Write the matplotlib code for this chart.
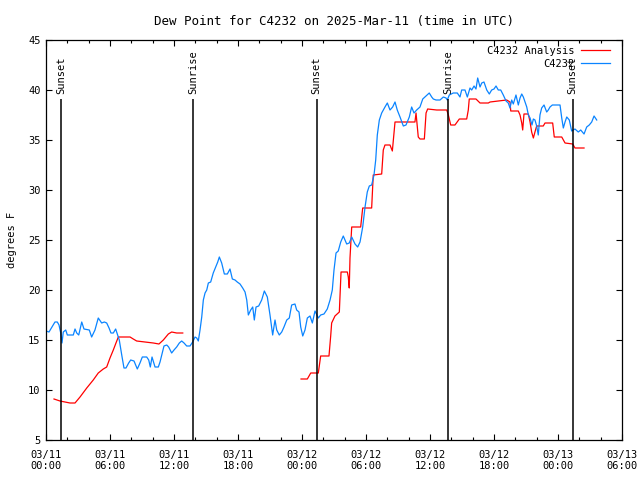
import matplotlib
matplotlib.use('Agg')
import matplotlib.pyplot as plt
import matplotlib.dates as mdates
import numpy as np
import pandas as pd

plt.rcParams['font.family'] = 'DejaVu Sans Mono'
plt.rcParams['font.size'] = 7.5

# hours after 2025-03-11 00:00 UTC
obs_hours = [0.00, 0.28, 0.84, 1.06, 1.22, 1.38, 1.50, 1.62, 1.85, 2.00, 2.56, 2.72,
             2.88, 3.07, 3.35, 3.56, 4.06, 4.28, 4.59, 4.90, 5.22, 5.47, 5.69, 5.91,
             6.09, 6.31, 6.53, 6.72, 6.87, 7.10, 7.31, 7.50, 7.75, 7.94, 8.25, 8.56,
             8.81, 9.03, 9.44, 9.63, 9.78, 9.94, 10.22, 10.53, 10.69, 11.06, 11.32,
             11.50, 11.78, 12.00, 12.25, 12.50, 12.72, 12.94, 13.19, 13.50, 13.75,
             13.97, 14.13, 14.28, 14.44, 14.60, 14.75, 14.91, 15.07, 15.22, 15.44,
             15.68, 15.91, 16.10, 16.25, 16.47, 16.72, 17.00, 17.25, 17.47, 17.72,
             17.93, 18.19, 18.44, 18.66, 18.82, 18.97, 19.19, 19.38, 19.53, 19.69,
             19.94, 20.22, 20.47, 20.75, 21.00, 21.25, 21.47, 21.63, 21.87, 22.10,
             22.31, 22.57, 22.81, 23.03, 23.34, 23.50, 23.72, 23.88, 24.07, 24.28,
             24.50, 24.75, 24.97, 25.22, 25.53, 25.75, 26.06, 26.37, 26.63, 26.84,
             27.00, 27.19, 27.40, 27.63, 27.87, 28.19, 28.43, 28.66, 28.97, 29.22,
             29.44, 29.69, 29.91, 30.12, 30.31, 30.53, 30.75, 30.91, 31.06, 31.25,
             31.47, 31.78, 32.00, 32.25, 32.50, 32.72, 32.93, 33.19, 33.50, 33.75,
             34.06, 34.28, 34.50, 34.75, 35.06, 35.32, 35.63, 35.93, 36.16, 36.31,
             36.56, 36.94, 37.25, 37.50, 37.62, 37.81, 38.18, 38.56, 38.81, 38.97,
             39.28, 39.50, 39.75, 39.91, 40.13, 40.31, 40.47, 40.69, 40.85, 41.06,
             41.32, 41.56, 41.78, 42.00, 42.19, 42.40, 42.63, 42.87, 43.13, 43.34,
             43.50, 43.66, 43.81, 44.06, 44.28, 44.44, 44.60, 44.75, 44.91, 45.07,
             45.22, 45.38, 45.56, 45.69, 45.84, 46.00, 46.15, 46.31, 46.47, 46.69,
             46.94, 47.09, 47.25, 47.47, 48.19, 48.35, 48.50, 48.66, 48.82, 49.06,
             49.28, 49.59, 49.90, 50.13, 50.44, 50.69, 50.93, 51.16, 51.38, 51.63]
obs_dewpt = [15.9, 15.8, 16.8, 16.8, 16.5, 15.7, 14.7, 15.8, 16.0, 15.5, 15.5, 16.1,
             15.7, 15.5, 16.8, 16.1, 16.0, 15.3, 16.0, 17.2, 16.7, 16.8, 16.7, 16.2,
             15.7, 15.7, 16.1, 15.5, 15.0, 13.5, 12.2, 12.2, 12.7, 13.0, 12.9, 12.1,
             12.7, 13.3, 13.3, 13.0, 12.3, 13.3, 12.3, 12.3, 12.8, 14.4, 14.5,
             14.3, 13.7, 14.0, 14.3, 14.7, 14.9, 14.7, 14.4, 14.4, 14.8,
             15.3, 15.2, 14.9, 16.0, 17.3, 19.0, 19.7, 20.0, 20.7, 20.8,
             21.7, 22.3, 22.8, 23.3, 22.7, 21.6, 21.6, 22.1, 21.1, 21.0,
             20.8, 20.6, 20.2, 19.8, 19.0, 17.5, 18.0, 18.3, 17.0, 18.3,
             18.4, 19.0, 19.9, 19.3, 17.5, 15.5, 17.0, 16.0, 15.5, 15.8,
             16.3, 17.0, 17.2, 18.5, 18.6, 18.0, 17.8, 16.3, 15.4, 16.0,
             17.2, 17.4, 16.7, 17.9, 17.2, 17.5, 17.6, 18.1, 19.0, 20.0,
             22.0, 23.7, 23.9, 24.8, 25.4, 24.6, 24.7, 25.3, 24.6, 24.3,
             24.8, 26.3, 28.3, 29.8, 30.4, 30.5, 31.5, 33.0, 35.5, 37.0,
             37.7, 38.3, 38.7, 38.0, 38.3, 38.8, 38.0, 37.3, 36.4, 36.5,
             37.3, 38.3, 37.7, 38.0, 38.3, 39.1, 39.4, 39.7, 39.3, 39.1,
             39.0, 39.0, 39.3, 39.2, 39.0, 39.5, 39.7, 39.7, 39.3, 40.0,
             40.0, 39.3, 40.2, 40.0, 40.4, 40.1, 41.2, 40.3, 40.7, 40.8,
             40.0, 39.6, 40.0, 40.1, 40.4, 40.0, 40.0, 39.5, 38.9, 38.7,
             38.2, 39.0, 38.6, 39.5, 38.5, 39.2, 39.6, 39.3, 38.8, 38.3,
             37.5, 37.2, 36.5, 37.1, 37.0, 36.4, 35.5, 37.5, 38.2, 38.5,
             37.8, 38.0, 38.3, 38.5, 38.5, 37.2, 36.2, 36.8, 37.3, 37.0,
             35.9, 36.1, 35.8, 36.0, 35.6, 36.3, 36.5, 36.8, 37.4, 37.0]

# analysis, two pieces with a gap in between
ana1_hours = [0.75, 1.31, 1.78, 2.25, 2.72, 3.19, 3.82, 4.43, 4.90, 5.37, 5.69, 6.00,
              6.31, 6.56, 6.78, 7.88, 8.18, 8.50, 9.28, 10.06, 10.59, 11.00, 11.47,
              11.78, 12.25, 12.82]
ana1_dewpt = [9.1, 8.9, 8.8, 8.7, 8.7, 9.3, 10.2, 11.0, 11.7, 12.1, 12.3, 13.2,
              14.0, 14.7, 15.3, 15.3, 15.1, 14.9, 14.8, 14.7, 14.6, 15.0, 15.6,
              15.8, 15.7, 15.7]
ana2_hours = [23.91, 24.50, 24.82, 25.53, 25.75, 26.53, 26.69, 26.78, 27.09, 27.50,
              27.66, 28.25, 28.34, 28.43, 28.50, 28.66, 29.50, 29.69, 30.53, 30.68,
              31.47, 31.62, 31.78, 32.25, 32.47, 32.72, 34.59, 34.69, 34.90, 35.06,
              35.47, 35.63, 35.78, 36.63, 37.57, 37.72, 37.94, 38.34, 38.75, 39.44,
              39.59, 39.68, 40.31, 40.69, 41.47, 41.63, 42.40, 43.19, 43.50, 43.57,
              44.28, 44.44, 44.60, 44.69, 44.81, 45.22, 45.38, 45.53, 45.69, 45.84,
              46.00, 46.62, 46.78, 47.50, 47.65, 48.35, 48.66, 49.38, 49.59, 50.44]
ana2_dewpt = [11.1, 11.1, 11.7, 11.7, 13.4, 13.4, 15.4, 16.7, 17.4, 17.8,
              21.8, 21.8, 21.3, 20.2, 23.2, 26.3, 26.3, 28.2, 28.2, 31.5,
              31.6, 34.0, 34.5, 34.5, 33.9, 36.8, 36.8, 37.7, 35.3, 35.1,
              35.1, 37.7, 38.1, 38.0, 38.0, 37.5, 36.5, 36.5, 37.1, 37.1,
              38.0, 39.1, 39.1, 38.7, 38.7, 38.8, 38.9, 39.0, 38.8, 37.9,
              37.9, 37.5, 36.7, 36.0, 37.6, 37.6, 36.8, 35.8, 35.2, 35.8,
              36.4, 36.4, 36.7, 36.7, 35.3, 35.3, 34.7, 34.6, 34.2, 34.2]

sunset_hours = [1.40, 25.38, 49.36]
sunrise_hours = [13.77, 37.73]

base = pd.Timestamp('2025-03-11 00:00')


def to_time(hours):
    return base + pd.to_timedelta(np.array(hours), unit='h')


fig = plt.figure(figsize=(6.4, 4.8), dpi=100)
ax = fig.add_axes([46 / 640, 40 / 480, 576 / 640, 400 / 480])

ax.plot(to_time(ana1_hours), ana1_dewpt, color='#ff0000', lw=0.9, label='C4232 Analysis')
ax.plot(to_time(ana2_hours), ana2_dewpt, color='#ff0000', lw=0.9)
ax.plot(to_time(obs_hours), obs_dewpt, color='#0a84ff', lw=0.9, label='C4232')

for name, hrs in [('Sunset', sunset_hours), ('Sunrise', sunrise_hours)]:
    for t in to_time(hrs):
        ax.vlines(t, 5, 39.1, color='black', lw=1.1)
        ax.text(t, 39.6, name, rotation=90, ha='center', va='bottom')

ax.set_xlim(base, base + pd.Timedelta(hours=54))
ax.set_ylim(5, 45)
ax.set_yticks(range(5, 46, 5))
ax.xaxis.set_major_locator(mdates.HourLocator(byhour=[0, 6, 12, 18]))
ax.xaxis.set_minor_locator(mdates.HourLocator(byhour=range(0, 24, 2)))
ax.xaxis.set_major_formatter(mdates.DateFormatter('%m/%d\n%H:%M'))
ax.tick_params(which='both', direction='in', top=True, right=True, width=0.8)
ax.tick_params(which='major', length=4.5)
ax.tick_params(which='minor', length=2.5)
ax.tick_params(axis='x', pad=7)
ax.tick_params(axis='y', pad=4)
for s in ax.spines.values():
    s.set_linewidth(0.9)

ax.set_ylabel('degrees F', labelpad=8)
ax.set_title('Dew Point for C4232 on 2025-Mar-11 (time in UTC)', pad=11)
ax.legend(loc='upper right', bbox_to_anchor=(0.979, 0.985), markerfirst=False,
          frameon=False, handlelength=2.8, handletextpad=0.6, borderaxespad=0,
          borderpad=0, labelspacing=0.3)

fig.savefig('out.png', dpi=100)
